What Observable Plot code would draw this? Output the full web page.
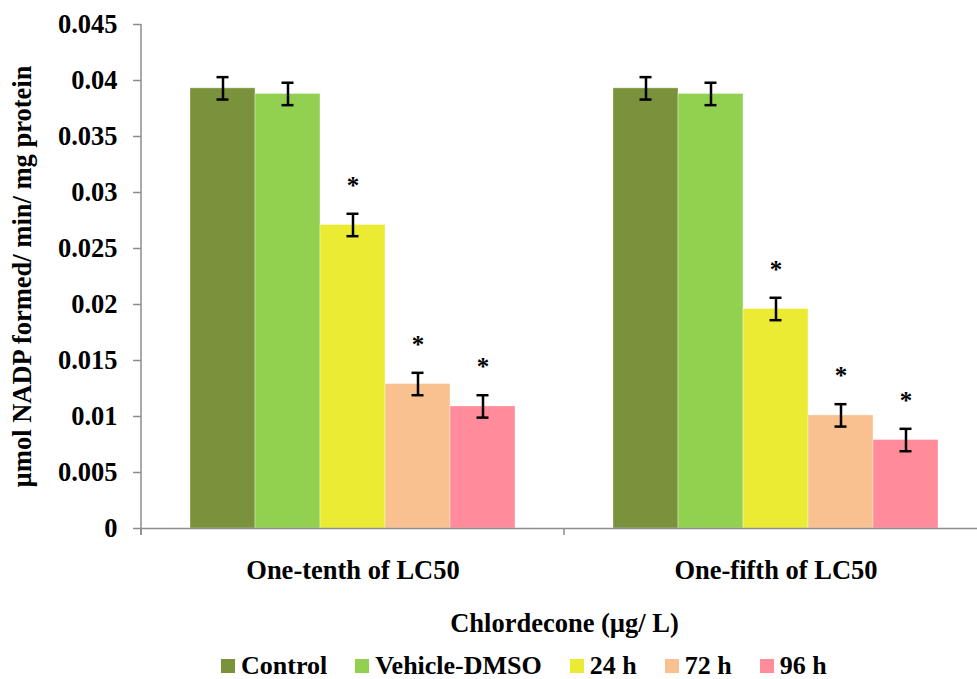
<!DOCTYPE html>
<html>
<head>
<meta charset="utf-8">
<script src="https://cdn.jsdelivr.net/npm/d3@7"></script>
<script src="https://cdn.jsdelivr.net/npm/@observablehq/plot@0.6"></script>
<style>
  html, body { margin: 0; padding: 0; background: #fff; overflow: hidden; }
  #chart { width: 977px; height: 679px; overflow: hidden; position: relative; }
  #chart svg { display: block; max-width: none; }
  .legend {
    display: flex; align-items: center;
    padding-left: 221px; padding-top: 6px; line-height: 34px;
    font: bold 26px "Liberation Serif", "Times New Roman", serif; color: #000;
    white-space: nowrap;
  }
  .legend .item { display: flex; align-items: center; margin-right: 28px; }
  .legend .sw { width: 14px; height: 14px; margin-right: 6px; display: inline-block; }
</style>
</head>
<body>
<div id="chart"></div>
<script>
// Glucose-6-phosphate dehydrogenase activity under chlordecone exposure
const groups = ["One-tenth of LC50", "One-fifth of LC50"];
const series = ["Control", "Vehicle-DMSO", "24 h", "72 h", "96 h"];
const colors = ["#7a923b", "#92d150", "#ebeb33", "#f9c190", "#ff8b9b"];

// mean activity (µmol NADP formed / min / mg protein)
const tenthMeans = [0.0393, 0.0388, 0.0271, 0.0129, 0.0109];
const fifthMeans = [0.0393, 0.0388, 0.0196, 0.0101, 0.0079];
// standard error
const tenthErrors = [0.001, 0.001, 0.001, 0.001, 0.001];
const fifthErrors = [0.001, 0.001, 0.001, 0.001, 0.001];
// significant difference from control
const tenthSignificant = [false, false, true, true, true];
const fifthSignificant = [false, false, true, true, true];

const yTicks = [0, 0.005, 0.01, 0.015, 0.02, 0.025, 0.03, 0.035, 0.04, 0.045];
const yTickLabels = ["0", "0.005", "0.01", "0.015", "0.02", "0.025", "0.03", "0.035", "0.04", "0.045"];

const yLabel = "µmol NADP formed/ min/ mg protein";
const xLabel = "Chlordecone (µg/ L)";

const means = [tenthMeans, fifthMeans];
const errors = [tenthErrors, fifthErrors];
const significant = [tenthSignificant, fifthSignificant];

const rows = groups.flatMap((g, gi) => series.map((s, si) => ({
  group: g, series: s,
  value: means[gi][si], err: errors[gi][si], sig: significant[gi][si]
})));

const axisGray = "#8c8c8c";
const yMax = yTicks[yTicks.length - 1];
const font = '"Liberation Serif", "Times New Roman", serif';

const plot = Plot.plot({
  width: 987,
  height: 645,
  marginLeft: 141,
  marginRight: 0,
  marginTop: 24,
  marginBottom: 117,
  style: {
    fontFamily: font,
    fontWeight: "bold",
    fontSize: "26px",
    color: "#000",
    background: "#fff",
    maxWidth: "none",
    overflow: "visible"
  },
  fx: {domain: groups, padding: 0},
  x: {domain: series, paddingInner: 0, paddingOuter: 0.73, axis: null},
  y: {domain: [0, yMax], axis: null},
  color: {domain: series, range: colors},
  marks: [
    Plot.barY(rows, {fx: "group", x: "series", y: "value", fill: "series",
      stroke: "#fff", strokeOpacity: 0.35, strokeWidth: 1}),
    Plot.ruleX(rows, {fx: "group", x: "series",
      y1: d => d.value - d.err, y2: d => d.value + d.err,
      stroke: "#000", strokeWidth: 2.5}),
    Plot.tickY(rows, {fx: "group", x: "series", y: d => d.value + d.err,
      stroke: "#000", strokeWidth: 2.5, insetLeft: 26.5, insetRight: 26.5}),
    Plot.tickY(rows, {fx: "group", x: "series", y: d => d.value - d.err,
      stroke: "#000", strokeWidth: 2.5, insetLeft: 26.5, insetRight: 26.5}),
    Plot.text(rows.filter(d => d.sig), {fx: "group", x: "series", y: d => d.value + d.err,
      text: () => "*", dy: -28, fontSize: 25, fill: "#000"}),
    Plot.ruleY([0], {stroke: axisGray, strokeWidth: 1.5}),
    Plot.axisY({
      ticks: yTicks,
      tickFormat: d => yTickLabels[yTicks.indexOf(d)],
      tickSize: 8, tickPadding: 16, fontSize: 26.5,
      stroke: axisGray, strokeWidth: 1.5,
      label: yLabel, labelAnchor: "center", labelArrow: "none", labelOffset: 129
    }),
    Plot.axisFx({
      anchor: "bottom", tickSize: 0, tickPadding: 32, fontSize: 26.5,
      label: xLabel, labelAnchor: "center", labelArrow: "none", labelOffset: 103
    })
  ]
});

// value axis line and category boundary ticks
{
  const fx = plot.scale("fx");
  const y = plot.scale("y");
  const y0 = y.apply(0);
  const g = d3.select(plot).append("g")
    .attr("stroke", axisGray).attr("stroke-width", 1.5);
  const left = fx.apply(groups[0]);
  g.append("line").attr("x1", left).attr("x2", left)
    .attr("y1", y.apply(yMax)).attr("y2", y0 + 7);
  const edges = groups.map(d => fx.apply(d)).concat([fx.apply(groups[groups.length - 1]) + fx.bandwidth]);
  g.selectAll("line.edge").data(edges).join("line").attr("class", "edge")
    .attr("x1", d => d).attr("x2", d => d).attr("y1", y0).attr("y2", y0 + 7);
}

const chart = document.getElementById("chart");
chart.appendChild(plot);

const legend = document.createElement("div");
legend.className = "legend";
series.forEach((s, i) => {
  const item = document.createElement("span");
  item.className = "item";
  const sw = document.createElement("span");
  sw.className = "sw";
  sw.style.background = colors[i];
  item.appendChild(sw);
  item.appendChild(document.createTextNode(s));
  legend.appendChild(item);
});
chart.appendChild(legend);
</script>
</body>
</html>
